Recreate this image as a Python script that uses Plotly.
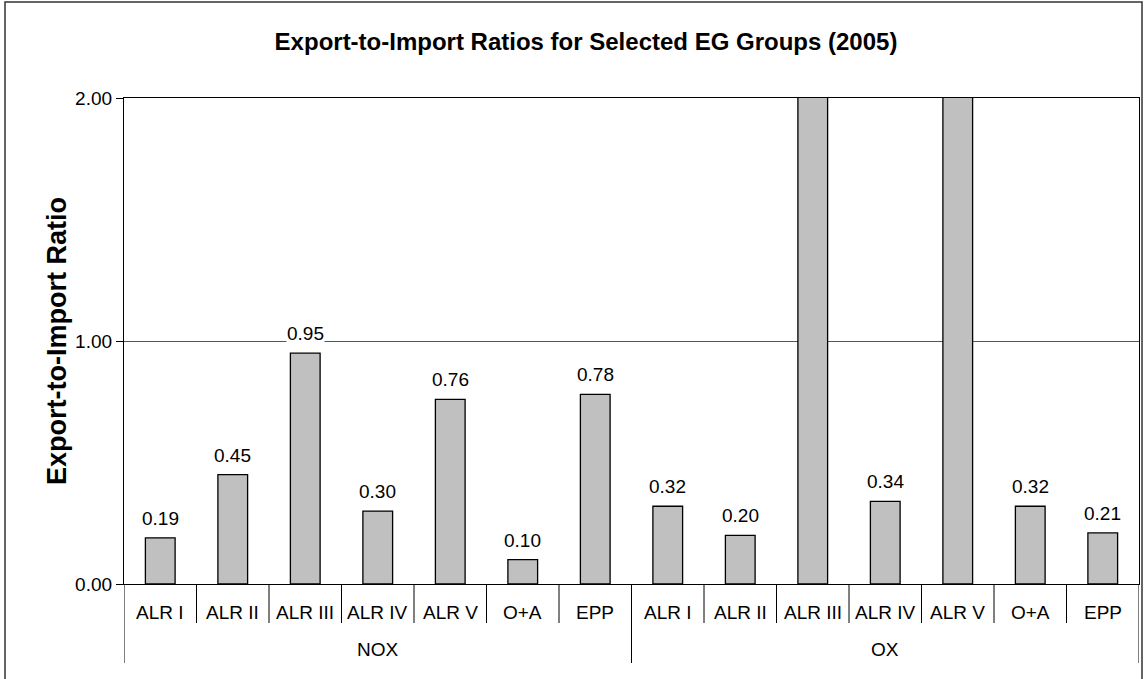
import plotly.graph_objects as go

groups = ["NOX"] * 7 + ["OX"] * 7
categories = ["ALR I", "ALR II", "ALR III", "ALR IV", "ALR V", "O+A", "EPP",
              "ALR I", "ALR II", "ALR III", "ALR IV", "ALR V", "O+A", "EPP"]
# OX ALR III and ALR V exceed the 2.00 axis limit (clipped in the original); values estimated
values = [0.19, 0.45, 0.95, 0.30, 0.76, 0.10, 0.78,
          0.32, 0.20, 2.40, 0.34, 2.80, 0.32, 0.21]
y_ticks = [0, 1, 2]
y_ticklabels = ["0.00", "1.00", "2.00"]

y_max = 2.0
W, H = 1148, 679
L, R, T, B = 124, 9, 98, 95
pw, ph = W - L - R, H - T - B

FONT = "Liberation Sans, Arial, sans-serif"
xpos = list(range(len(categories)))

fig = go.Figure()
fig.add_trace(go.Bar(
    x=xpos, y=values,
    marker=dict(color="#C0C0C0", line=dict(color="black", width=1.3)),
    width=0.41, showlegend=False, hoverinfo="skip",
))

annots = []
# data labels (hidden when the bar runs off the top of the axis)
for i, v in zip(xpos, values):
    if v <= y_max:
        annots.append(dict(
            xref="x", yref="y", x=i, y=v, text=f"{v:.2f}",
            showarrow=False, yanchor="bottom", yshift=8,
            font=dict(family=FONT, size=19, color="black"),
            bgcolor="white", borderpad=0,
        ))
# inner category labels
for i, c in zip(xpos, categories):
    annots.append(dict(
        xref="x", yref="paper", x=i, y=0, yshift=-28, text=c,
        showarrow=False, yanchor="middle",
        font=dict(family=FONT, size=19, color="black"),
    ))
# group labels
group_names = list(dict.fromkeys(groups))
shapes = []
for gname in group_names:
    idx = [i for i, g in zip(xpos, groups) if g == gname]
    annots.append(dict(
        xref="x", yref="paper", x=sum(idx) / len(idx), y=0, yshift=-65, text=gname,
        showarrow=False, yanchor="middle",
        font=dict(family=FONT, size=19, color="black"),
    ))
    # group boundaries (long separators)
    for edge in (min(idx) - 0.5, max(idx) + 0.5):
        shapes.append(dict(type="line", xref="x", yref="paper",
                           x0=edge, x1=edge, y0=0, y1=-79 / ph,
                           line=dict(color="black", width=1)))
    # inner separators (short)
    for k in idx[:-1]:
        shapes.append(dict(type="line", xref="x", yref="paper",
                           x0=k + 0.5, x1=k + 0.5, y0=0, y1=-39 / ph,
                           line=dict(color="black", width=1)))

annots.append(dict(
    xref="paper", yref="paper", x=(40 - L) / pw, y=0.5,
    text="Export-to-Import Ratio", textangle=-90, showarrow=False,
    font=dict(family=FONT, size=27, color="black", weight="bold"),
))

# outer chart border
shapes.append(dict(type="rect", xref="paper", yref="paper",
                   x0=(5 - L) / pw, x1=(1142 - L) / pw,
                   y0=(T + ph - 700) / ph, y1=(T + ph - 2) / ph,
                   line=dict(color="#333333", width=1.5), layer="below"))

fig.update_layout(
    width=W, height=H,
    margin=dict(l=L, r=R, t=T, b=B, autoexpand=False),
    paper_bgcolor="white", plot_bgcolor="white",
    title=dict(text="Export-to-Import Ratios for Selected EG Groups (2005)",
               x=586 / W, xanchor="center", xref="container",
               y=1 - 42 / H, yanchor="middle", yref="container",
               font=dict(family=FONT, size=24, color="black", weight="bold")),
    annotations=annots,
    shapes=shapes,
    xaxis=dict(
        range=[-0.5, len(categories) - 0.5],
        showline=True, linecolor="black", linewidth=1.3, mirror=True,
        showticklabels=False, ticks="", showgrid=False, zeroline=False,
    ),
    yaxis=dict(
        range=[0, y_max], tickvals=y_ticks, ticktext=y_ticklabels,
        showline=True, linecolor="black", linewidth=1.3, mirror=True,
        ticks="outside", ticklen=7, tickcolor="black",
        showgrid=True, gridcolor="#555555", gridwidth=1,
        zeroline=False,
        tickfont=dict(family=FONT, size=19, color="black"),
    ),
)

fig.write_html("out.html", config={"displayModeBar": False},
               post_script="document.body.style.margin='0';")
